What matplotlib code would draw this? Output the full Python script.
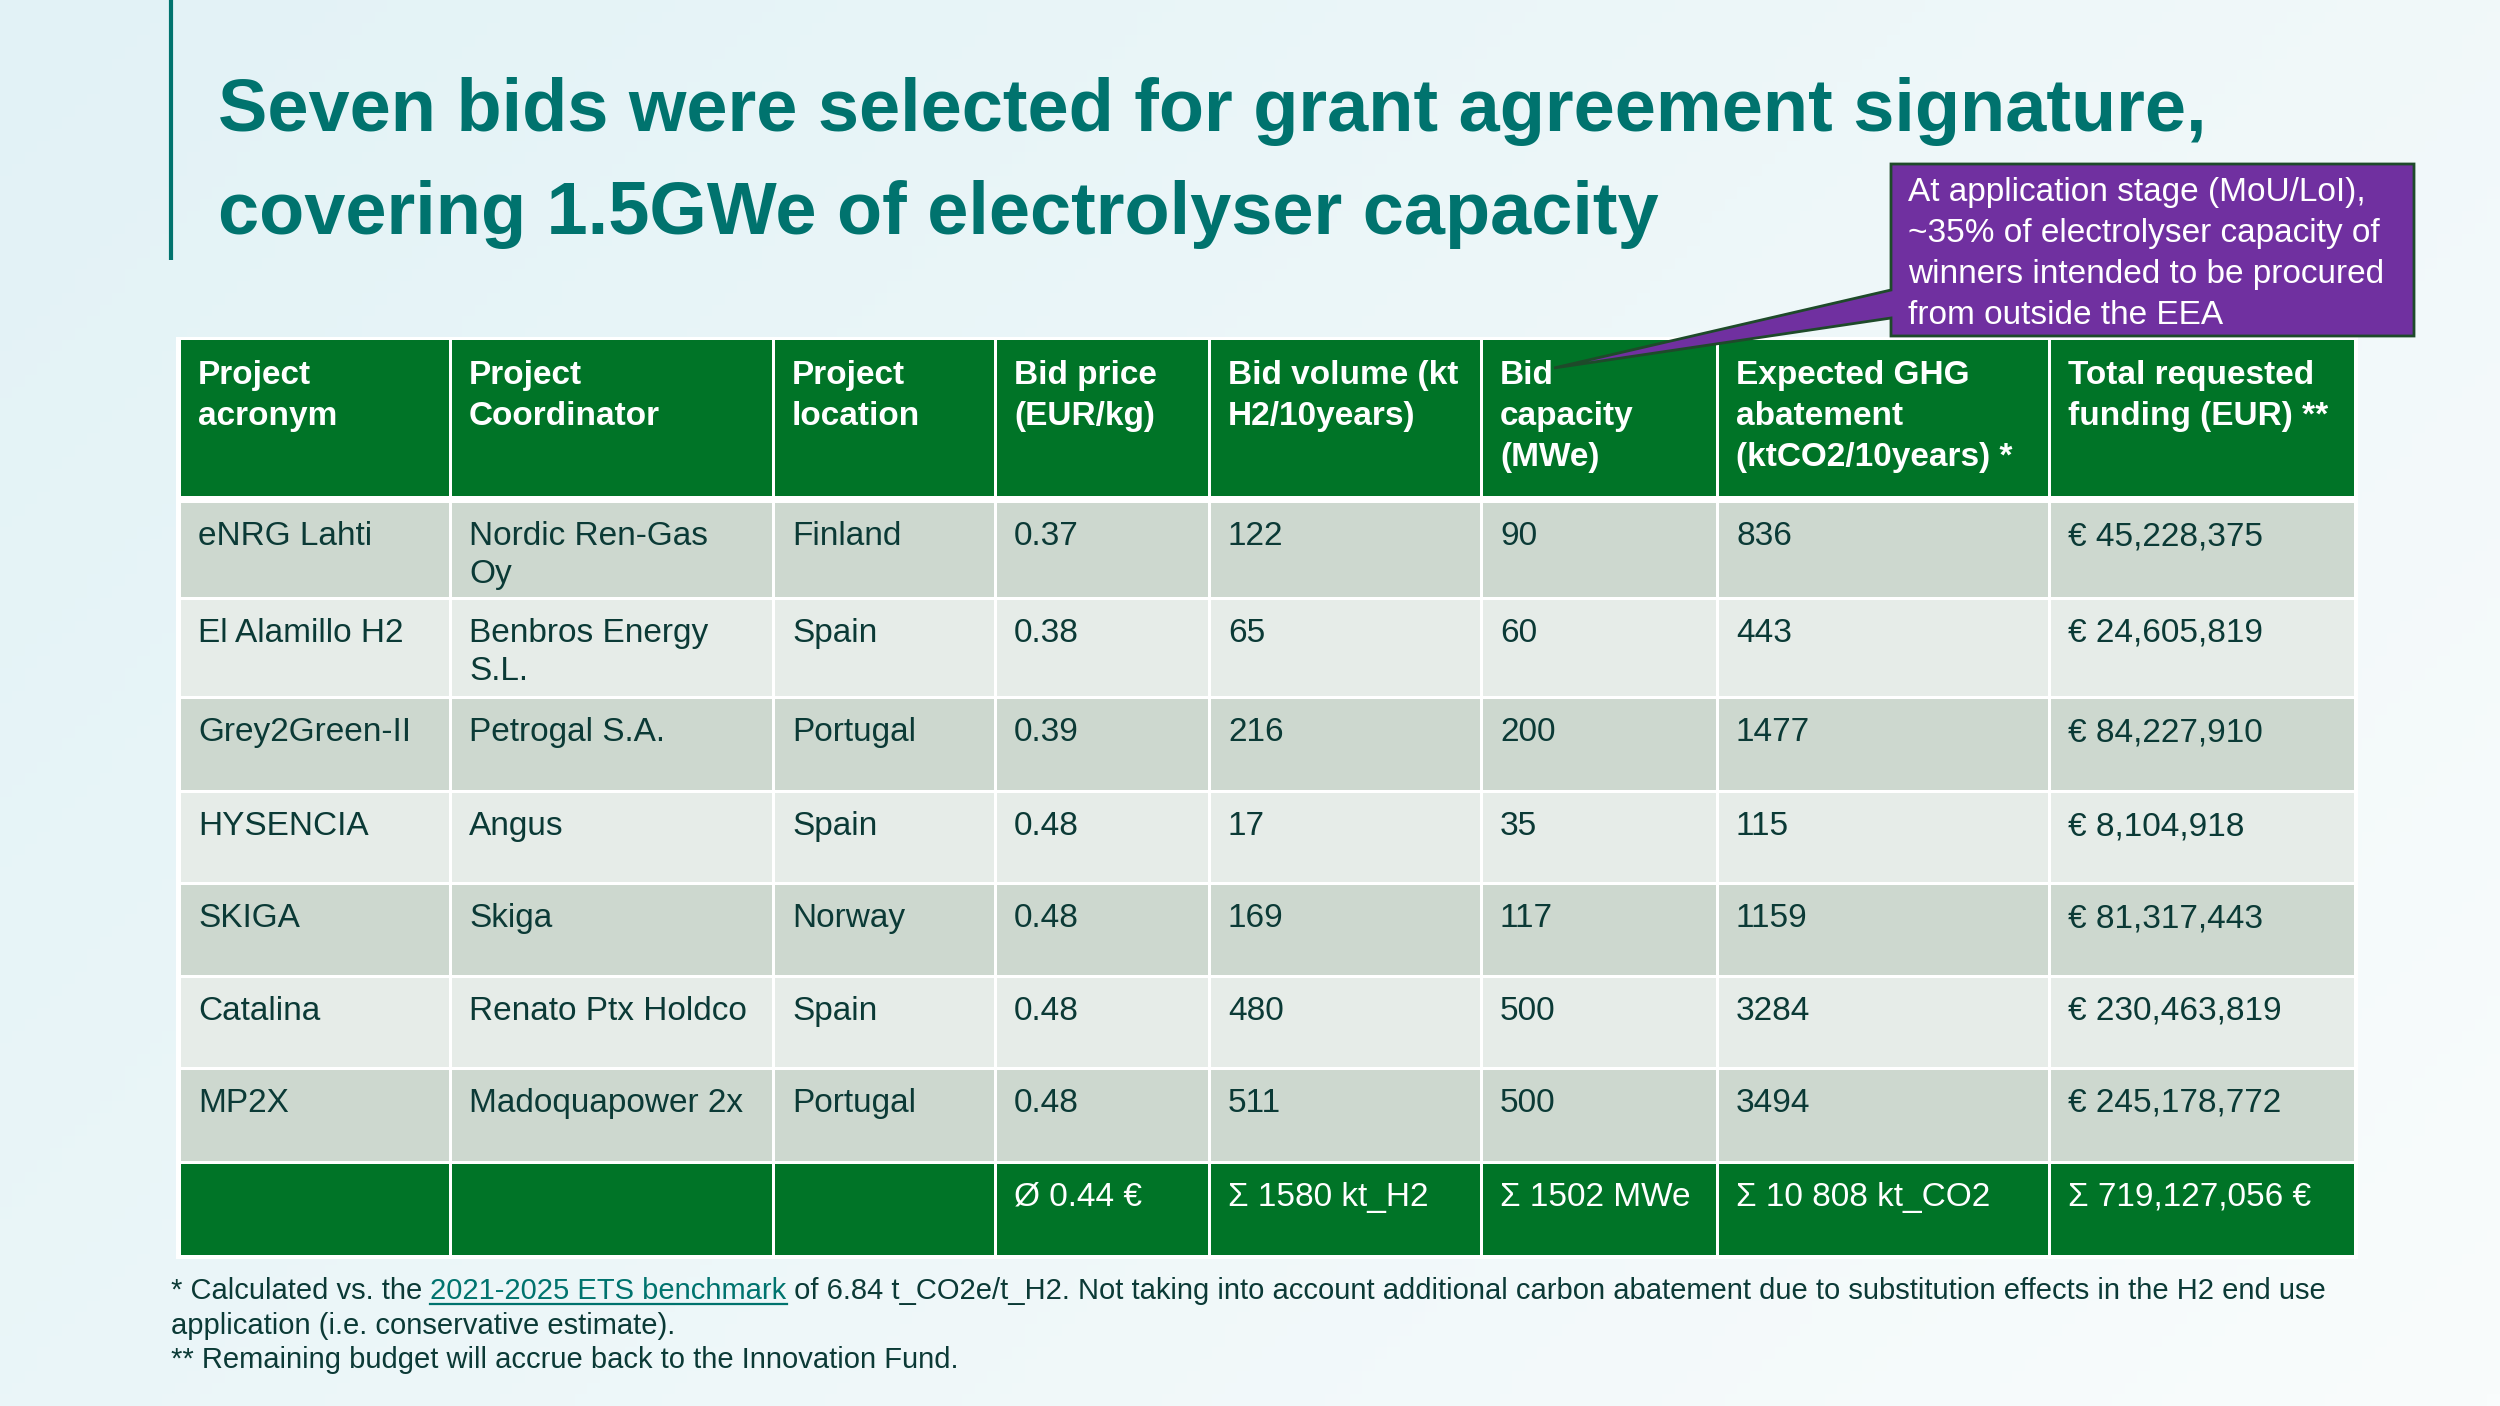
import numpy as np
import matplotlib
matplotlib.use('Agg')
import matplotlib.pyplot as plt
from matplotlib.patches import Rectangle, Polygon
from matplotlib import font_manager


def pick_font(names):
    for n in names:
        try:
            font_manager.findfont(font_manager.FontProperties(family=n),
                                  fallback_to_default=False)
            return n
        except ValueError:
            pass
    return 'DejaVu Sans'


NARROW = pick_font(['Liberation Sans Narrow', 'Liberation Sans', 'Arial'])

# ---- data ----
title_lines = ["Seven bids were selected for grant agreement signature,",
               "covering 1.5GWe of electrolyser capacity"]
headers = ["Project\nacronym", "Project\nCoordinator", "Project\nlocation",
           "Bid price\n(EUR/kg)", "Bid volume (kt\nH2/10years)",
           "Bid\ncapacity\n(MWe)", "Expected GHG\nabatement\n(ktCO2/10years) *",
           "Total requested\nfunding (EUR) **"]
acronyms = ["eNRG Lahti", "El Alamillo H2", "Grey2Green-II", "HYSENCIA",
            "SKIGA", "Catalina", "MP2X"]
coordinators = ["Nordic Ren-Gas\nOy", "Benbros Energy\nS.L.", "Petrogal S.A.",
                "Angus", "Skiga", "Renato Ptx Holdco", "Madoquapower 2x"]
locations = ["Finland", "Spain", "Portugal", "Spain", "Norway", "Spain",
             "Portugal"]
bid_price = [0.37, 0.38, 0.39, 0.48, 0.48, 0.48, 0.48]
bid_volume = [122, 65, 216, 17, 169, 480, 511]
bid_capacity = [90, 60, 200, 35, 117, 500, 500]
ghg_abatement = [836, 443, 1477, 115, 1159, 3284, 3494]
funding = [45228375, 24605819, 84227910, 8104918, 81317443, 230463819,
           245178772]
callout_text = ("At application stage (MoU/LoI),\n~35% of electrolyser capacity of\n"
                "winners intended to be procured\nfrom outside the EEA")
foot_pre = "* Calculated vs. the "
foot_link = "2021-2025 ETS benchmark"
foot_post = (" of 6.84 t_CO2e/t_H2. Not taking into account additional carbon "
             "abatement due to substitution effects in the H2 end use")
foot_lines = ["application (i.e. conservative estimate).",
              "** Remaining budget will accrue back to the Innovation Fund."]

totals = ["", "", "",
          "Ø %.2f €" % np.mean(bid_price),
          "Σ %d kt_H2" % sum(bid_volume),
          "Σ %d MWe" % sum(bid_capacity),
          "Σ " + "{:,}".format(sum(ghg_abatement)).replace(",", " ") + " kt_CO2",
          "Σ " + "{:,}".format(sum(funding)) + " €"]

rows = []
for i in range(len(acronyms)):
    rows.append([acronyms[i], coordinators[i], locations[i],
                 "%.2f" % bid_price[i], str(bid_volume[i]),
                 str(bid_capacity[i]), str(ghg_abatement[i]),
                 "€ " + "{:,}".format(funding[i])])

# ---- colours / layout ----
TEAL = '#00736E'
GREEN = '#007427'
ROW_A = '#CDD8CF'
ROW_B = '#E6ECE8'
DARK = '#0B3A36'
PURPLE = '#7030A0'

W, H = 2500, 1406
fig = plt.figure(figsize=(25, 14.06), dpi=100)
ax = fig.add_axes([0, 0, 1, 1])
ax.set_xlim(0, W)
ax.set_ylim(H, 0)
ax.axis('off')


def put_lines(x, y, s, step, **kw):
    # one text per line, y is the baseline of the first line
    out = []
    for k, line in enumerate(s.split('\n')):
        out.append(ax.text(x, y + k * step, line, va='baseline', ha='left',
                           family=NARROW, **kw))
    return out


# background gradient
gx = np.linspace(0, 1, 200)[None, :]
gy = np.linspace(0, 1, 120)[:, None]
t = np.clip(0.65 * gx + 0.35 * gy, 0, 1)
c0 = np.array([226, 242, 246]) / 255.
c1 = np.array([249, 252, 252]) / 255.
bg = c0[None, None, :] * (1 - t[..., None]) + c1[None, None, :] * t[..., None]
ax.imshow(bg, extent=[0, W, H, 0], aspect='auto', zorder=0)

# title
ax.plot([171, 171], [0, 260], color=TEAL, lw=3, solid_capstyle='butt', zorder=2)
fig.canvas.draw()
renderer = fig.canvas.get_renderer()
title_objs = put_lines(218, 131, "\n".join(title_lines), 103, fontsize=60,
                       fontweight='bold', color=TEAL, zorder=3)
w0 = title_objs[0].get_window_extent(renderer).width
scale = 1990.0 / w0
for tobj in title_objs:
    tobj.set_fontsize(60 * scale)

# table
col_edges = [179, 450, 773, 995, 1209, 1481, 1717, 2049, 2355]
head_top, head_bot = 340, 496
row_edges = [501, 598, 697, 791, 883, 976, 1068, 1162, 1256]

ax.add_patch(Rectangle((col_edges[0] - 3, head_top - 3),
                       col_edges[-1] - col_edges[0] + 6,
                       row_edges[-1] - head_top + 6,
                       facecolor='white', edgecolor='none', zorder=1))
g = 1.5
FS = 24
for j in range(8):
    x0, x1 = col_edges[j], col_edges[j + 1]
    ax.add_patch(Rectangle((x0 + g, head_top), x1 - x0 - 2 * g,
                           head_bot - head_top, facecolor=GREEN,
                           edgecolor='none', zorder=2))
    put_lines(x0 + 19, head_top + 44, headers[j], 41, fontsize=FS,
              fontweight='bold', color='white', zorder=3)

for i in range(len(rows) + 1):
    y0 = row_edges[i] + g
    y1 = row_edges[i + 1] - g
    if i == len(rows):
        fc, tc, cells = GREEN, 'white', totals
    else:
        fc, tc, cells = (ROW_A if i % 2 == 0 else ROW_B), DARK, rows[i]
    for j in range(8):
        x0, x1 = col_edges[j], col_edges[j + 1]
        ax.add_patch(Rectangle((x0 + g, y0), x1 - x0 - 2 * g, y1 - y0,
                               facecolor=fc, edgecolor='none', zorder=2))
        put_lines(x0 + 19, row_edges[i] + 44, cells[j], 38, fontsize=FS,
                  color=tc, zorder=3)

# callout
callout = Polygon([(1891, 164), (2414, 164), (2414, 336), (1891, 336),
                   (1891, 318), (1554, 368), (1891, 290)], closed=True,
                  facecolor=PURPLE, edgecolor='#1E4A2A', lw=2, zorder=5)
ax.add_patch(callout)
put_lines(1908, 201, callout_text, 41, fontsize=FS, color='white', zorder=6)

# footnotes
FFS = 21
fy = [1299, 1334, 1368]
t1 = ax.text(171, fy[0], foot_pre, fontsize=FFS, color=DARK, family=NARROW,
             va='baseline', ha='left', zorder=3)
fig.canvas.draw()
inv = ax.transData.inverted()
bb = t1.get_window_extent(renderer)
xn = inv.transform((bb.x1, 0))[0]
t2 = ax.text(xn, fy[0], foot_link, fontsize=FFS, color=TEAL, family=NARROW,
             va='baseline', ha='left', zorder=3)
bb2 = t2.get_window_extent(renderer)
xe = inv.transform((bb2.x1, 0))[0]
ax.plot([xn, xe], [fy[0] + 5, fy[0] + 5], color=TEAL, lw=1.6, zorder=3)
ax.text(xe, fy[0], foot_post, fontsize=FFS, color=DARK, family=NARROW,
        va='baseline', ha='left', zorder=3)
for y, line in zip(fy[1:], foot_lines):
    ax.text(171, y, line, fontsize=FFS, color=DARK, family=NARROW,
            va='baseline', ha='left', zorder=3)

fig.savefig('out.png', dpi=100)
